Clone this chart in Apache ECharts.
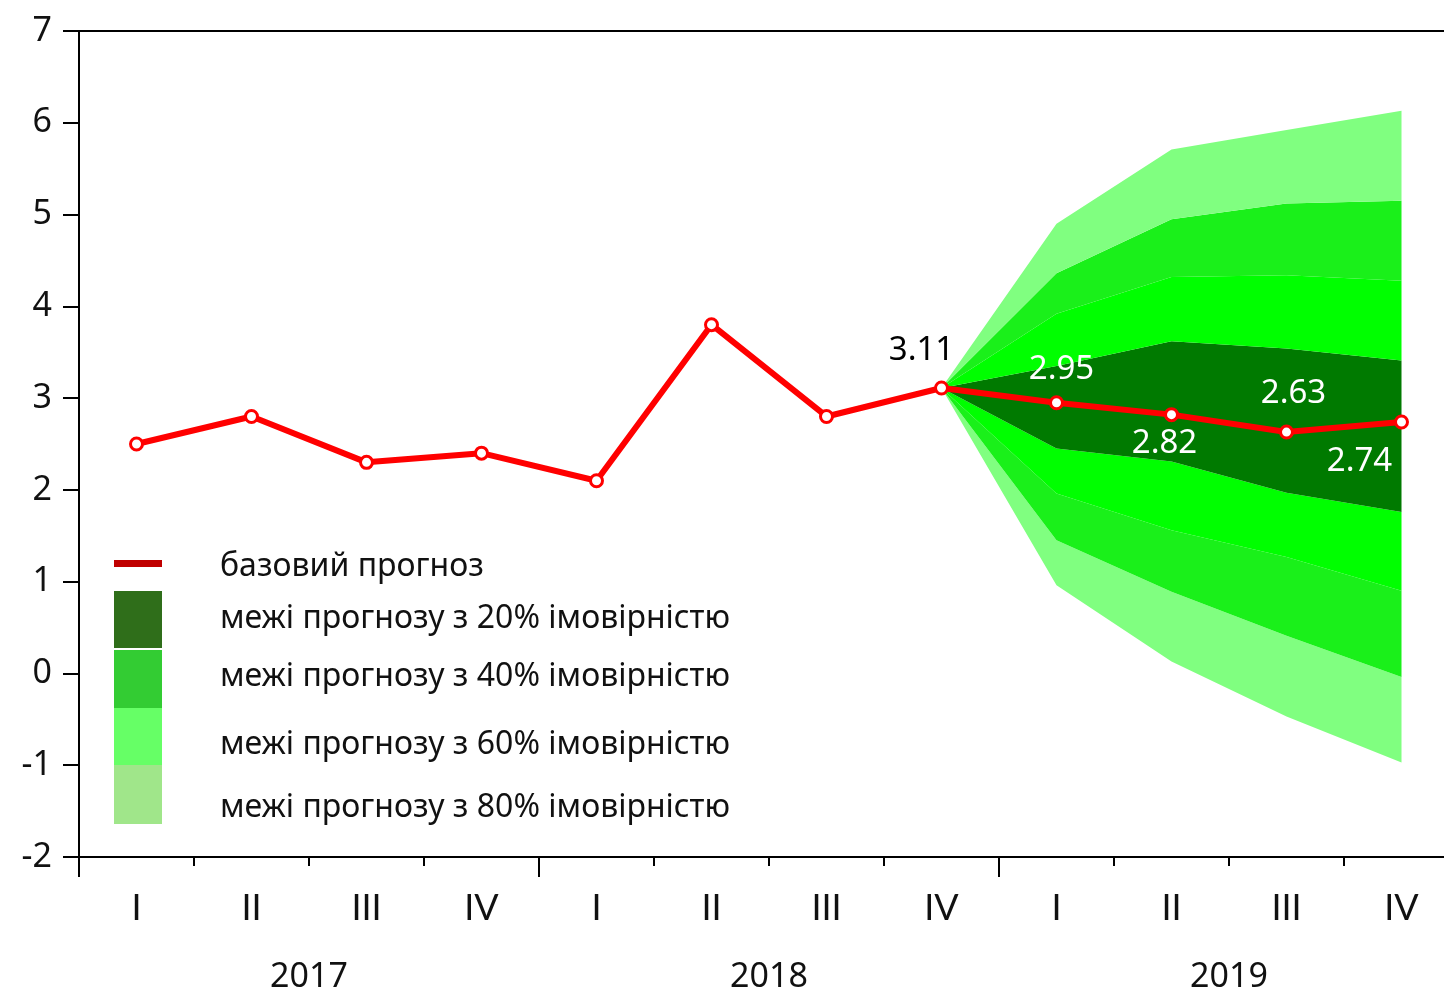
<!DOCTYPE html>
<html>
<head>
<meta charset="utf-8">
<script src="https://cdn.jsdelivr.net/npm/echarts@6/dist/echarts.min.js"></script>
<style>
  html, body { margin: 0; padding: 0; background: #fff; }
  #chart { width: 1444px; height: 994px; }
</style>
</head>
<body>
<div id="chart"></div>
<script>
const quarters = ['I', 'II', 'III', 'IV', 'I', 'II', 'III', 'IV', 'I', 'II', 'III', 'IV'];
const years = ['2017', '2018', '2019'];
const baseline = [2.5, 2.8, 2.3, 2.4, 2.1, 3.8, 2.8, 3.11, 2.95, 2.82, 2.63, 2.74];
const yTicks = [-2, -1, 0, 1, 2, 3, 4, 5, 6, 7];

// forecast fan, from IV 2018 to IV 2019
const fanStart = 7;
const low80 = [3.11, 0.96, 0.13, -0.47, -0.97];
const low60 = [3.11, 1.45, 0.89, 0.41, -0.04];
const low40 = [3.11, 1.96, 1.56, 1.27, 0.90];
const low20 = [3.11, 2.45, 2.31, 1.97, 1.76];
const up20 = [3.11, 3.35, 3.62, 3.54, 3.41];
const up40 = [3.11, 3.92, 4.32, 4.34, 4.28];
const up60 = [3.11, 4.36, 4.95, 5.12, 5.15];
const up80 = [3.11, 4.90, 5.71, 5.92, 6.13];

const legendNames = [
  'базовий прогноз',
  'межі прогнозу з 20% імовірністю',
  'межі прогнозу з 40% імовірністю',
  'межі прогнозу з 60% імовірністю',
  'межі прогнозу з 80% імовірністю'
];

const FONT = '"Noto Sans", sans-serif';
const AXFONT = 'Lato, sans-serif';
const bounds = [low80, low60, low40, low20, up20, up40, up60, up80];
const bandColors = ['#80FF80', '#1AF01A', '#00FF00', '#007A00', '#00FF00', '#1AF01A', '#80FF80'];

function pad(arr) {
  const out = new Array(fanStart).fill(null);
  return out.concat(arr);
}

const series = [];
series.push({
  type: 'line', stack: 'fan', stackStrategy: 'all',
  data: pad(low80), symbol: 'none', silent: true,
  lineStyle: { opacity: 0 }, z: 1
});
for (let i = 1; i < bounds.length; i++) {
  series.push({
    type: 'line', stack: 'fan', stackStrategy: 'all',
    data: pad(bounds[i].map((v, j) => +(v - bounds[i - 1][j]).toFixed(2))),
    symbol: 'none', silent: true,
    lineStyle: { width: 0, opacity: 0 },
    areaStyle: { color: bandColors[i - 1], opacity: 1 },
    z: 1
  });
}

// label placement for the forecast values
const labelOffsets = { 7: [-20, -37], 8: [5, -33], 9: [-7, 29], 10: [7, -38], 11: [-42, 40] };

series.push({
  type: 'line',
  data: baseline.map((v, i) => {
    const off = labelOffsets[i];
    if (!off) return v;
    return {
      value: v,
      label: {
        show: true, position: 'inside', offset: off,
        color: i === fanStart ? '#000' : '#fff',
        fontSize: 33, fontFamily: FONT,
        formatter: () => v.toFixed(2)
      }
    };
  }),
  symbol: 'circle', symbolSize: 12,
  itemStyle: { color: '#fff', borderColor: '#FF0000', borderWidth: 3 },
  lineStyle: { color: '#FF0000', width: 6 },
  z: 5
});

const lx = 114, lw = 48, tx = 220;
const graphic = [
  { type: 'rect', shape: { x: lx, y: 560, width: lw, height: 7 }, style: { fill: '#C00000' } },
  { type: 'rect', shape: { x: lx, y: 591, width: lw, height: 57 }, style: { fill: '#2F6E1A' } },
  { type: 'rect', shape: { x: lx, y: 650, width: lw, height: 58 }, style: { fill: '#33CC33' } },
  { type: 'rect', shape: { x: lx, y: 708, width: lw, height: 57 }, style: { fill: '#66FF66' } },
  { type: 'rect', shape: { x: lx, y: 765, width: lw, height: 59 }, style: { fill: '#A0E68A' } }
];
const textY = [567, 619, 677, 745, 808];
legendNames.forEach((name, i) => {
  graphic.push({
    type: 'text', x: tx, y: textY[i],
    style: { text: name, fill: '#111', font: '32px ' + FONT, textVerticalAlign: 'middle' }
  });
});

const chart = echarts.init(document.getElementById('chart'));
chart.setOption({
  animation: false,
  backgroundColor: '#fff',
  grid: {
    left: 79, top: 31, width: 1380, height: 826, outerBoundsMode: 'none', containLabel: false,
    show: true, borderColor: '#000', borderWidth: 2
  },
  xAxis: [
    {
      type: 'category', data: quarters, boundaryGap: true,
      axisLine: { onZero: false, lineStyle: { color: '#000', width: 2 } },
      axisTick: { show: true, length: 9, interval: 0, lineStyle: { color: '#000', width: 2 } },
      axisLabel: { color: '#111', fontSize: 36, fontFamily: AXFONT, margin: 33, interval: 0 },
      splitLine: { show: false }
    },
    {
      type: 'category', data: years, boundaryGap: true, position: 'bottom',
      axisLine: { show: false, onZero: false },
      axisTick: { show: true, length: 20, interval: 0, lineStyle: { color: '#000', width: 2 } },
      axisLabel: { color: '#111', fontSize: 34, fontFamily: FONT, margin: 103, interval: 0 },
      splitLine: { show: false }
    }
  ],
  yAxis: {
    type: 'value', min: yTicks[0], max: yTicks[yTicks.length - 1], interval: 1,
    axisLine: { show: true, lineStyle: { color: '#000', width: 2 } },
    axisTick: { show: true, length: 16, lineStyle: { color: '#000', width: 2 } },
    axisLabel: { color: '#111', fontSize: 34, fontFamily: FONT, margin: 27 },
    splitLine: { show: false }
  },
  series: series,
  graphic: graphic
});
</script>
</body>
</html>
